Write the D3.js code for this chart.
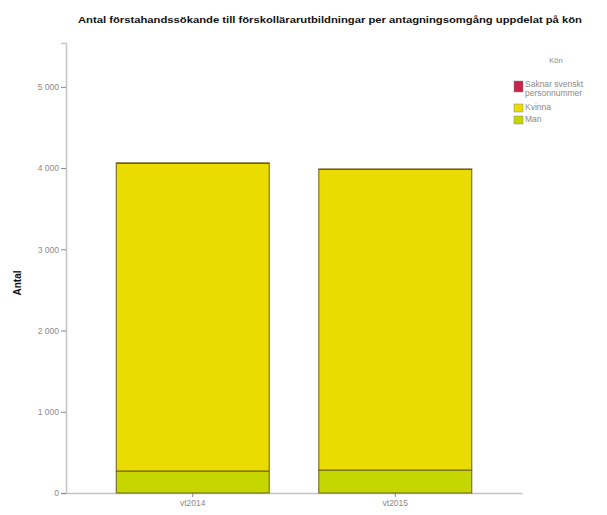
<!DOCTYPE html>
<html><head><meta charset="utf-8">
<script src="https://cdn.jsdelivr.net/npm/d3@7"></script>
<style>body{margin:0;background:#fff;}svg{display:block;font-family:"Liberation Sans",Arial,sans-serif;}</style>
</head><body>
<svg id="c" width="607" height="515"></svg>
<script>
const categories = ["vt2014", "vt2015"];
const seriesNames = ["Man", "Kvinna", "Saknar svenskt personnummer"];
const man = [271, 283];
const kvinna = [3787, 3701];
const saknar = [6, 5];
const yTicks = [0, 1000, 2000, 3000, 4000, 5000];
const colors = {"Man": "#c5d600", "Kvinna": "#eadb00", "Saknar svenskt personnummer": "#c8244c"};

const svg = d3.select("#c");
const x = d3.scaleBand().domain(categories).range([66, 522]).paddingInner(0.245).paddingOuter(0.248);
const y = d3.scaleLinear().domain([0, 5540]).range([493, 43]);

const rows = categories.map((c, i) => ({cat: c, "Man": man[i], "Kvinna": kvinna[i], "Saknar svenskt personnummer": saknar[i]}));
const stack = d3.stack().keys(seriesNames)(rows);

// axes
const fmt = v => d3.format(",")(v).replace(/,/g, " ");
const yAxis = svg.append("g").attr("transform", "translate(66,0)")
  .call(d3.axisLeft(y).tickValues(yTicks).tickFormat(fmt).tickSize(5).tickPadding(2));
yAxis.select(".domain").attr("stroke", "#c4c4c4").attr("stroke-width", 1.5);
yAxis.selectAll(".tick line").attr("stroke", "#888");
yAxis.selectAll(".tick text").attr("fill", "#8a8a8a").attr("font-size", 8.5);

const xAxis = svg.append("g").attr("transform", "translate(0,493)")
  .call(d3.axisBottom(x).tickSize(4).tickSizeOuter(0).tickPadding(3));
xAxis.select(".domain").attr("stroke", "#c4c4c4").attr("stroke-width", 1.5);
xAxis.selectAll(".tick line").attr("stroke", "#888");
xAxis.selectAll(".tick text").attr("fill", "#8a8a8a").attr("font-size", 8.5);

// bars
svg.append("g").selectAll("g").data(stack).join("g")
  .attr("fill", d => colors[d.key])
  .selectAll("rect").data(d => d).join("rect")
  .attr("x", d => x(d.data.cat))
  .attr("width", x.bandwidth())
  .attr("y", d => y(d[1]))
  .attr("height", d => y(d[0]) - y(d[1]))
  .attr("stroke", "#6e5f1a").attr("stroke-width", 1);

// title
svg.append("text").attr("x", 330).attr("y", 23).attr("text-anchor", "middle")
  .attr("font-size", 8.5).attr("font-weight", "bold").attr("fill", "#111")
  .attr("textLength", 504).attr("lengthAdjust", "spacingAndGlyphs")
  .text("Antal förstahandssökande till förskollärarutbildningar per antagningsomgång uppdelat på kön");

// y label
svg.append("text").attr("transform", "translate(21,283) rotate(-90)").attr("text-anchor", "middle")
  .attr("font-size", 10).attr("font-weight", "bold").attr("fill", "#111").text("Antal");

// legend
const lg = svg.append("g").attr("transform", "translate(514,0)");
lg.append("text").attr("x", 42).attr("y", 63).attr("text-anchor", "middle").attr("font-size", 7.5).attr("fill", "#8a8a8a").text("Kön");
const legendItems = [
  {key: "Saknar svenskt personnummer", lines: ["Saknar svenskt", "personnummer"], y: 81, h: 11},
  {key: "Kvinna", lines: ["Kvinna"], y: 104, h: 8},
  {key: "Man", lines: ["Man"], y: 116, h: 8}
];
legendItems.forEach(it => {
  lg.append("rect").attr("x", 0).attr("y", it.y).attr("width", 9).attr("height", it.h)
    .attr("fill", colors[it.key]).attr("stroke", "#888").attr("stroke-width", 0.5);
  it.lines.forEach((l, j) => lg.append("text").attr("x", 11).attr("y", it.y + 6 + j * 9)
    .attr("font-size", 8.5).attr("fill", "#8a8a8a").text(l));
});
</script>
</body></html>
